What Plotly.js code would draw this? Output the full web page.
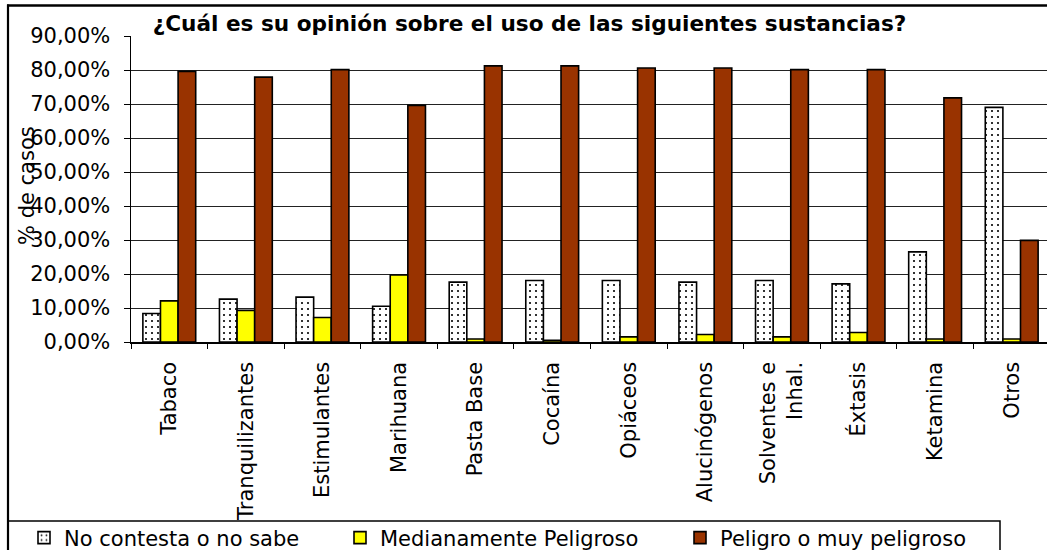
<!DOCTYPE html>
<html><head><meta charset="utf-8">
<script src="https://cdn.plot.ly/plotly-3.0.1.min.js"></script>
<style>html,body{margin:0;padding:0;background:#fff}#chart{width:1047px;height:550px}</style>
</head><body><div id="chart"></div>
<script>
const categories = ["Tabaco","Tranquilizantes","Estimulantes","Marihuana","Pasta Base","Cocaína","Opiáceos","Alucinógenos","Solventes e<br>Inhal.","Éxtasis","Ketamina","Otros"];
const noContesta   = [8.4, 12.6, 13.2, 10.5, 17.6, 18.1, 18.1, 17.6, 18.1, 17.1, 26.5, 69.0];
const medianamente = [12.1, 9.3, 7.2, 19.7, 0.9, 0.5, 1.5, 2.2, 1.5, 2.8, 0.9, 0.9];
const peligroso    = [79.6, 77.9, 80.1, 69.6, 81.2, 81.2, 80.6, 80.6, 80.1, 80.1, 71.8, 29.9];
const seriesNames  = ["No contesta o no sabe", "Medianamente Peligroso", "Peligro o muy peligroso"];
const yTickVals = [0, 10, 20, 30, 40, 50, 60, 70, 80, 90];
const yTickText = ["0,00%", "10,00%", "20,00%", "30,00%", "40,00%", "50,00%", "60,00%", "70,00%", "80,00%", "90,00%"];
const titleText = "¿Cuál es su opinión sobre el uso de las siguientes sustancias?";
const yTitleText = "% de casos";

const W = 1047, H = 550;
const plotL = 131, plotR = 1047, plotT = 36, plotB = 342;
const px2x = p => (p - plotL) / (plotR - plotL);
const px2y = p => (plotB - p) / (plotB - plotT);
const FONT = "DejaVu Sans, Verdana, sans-serif";
const outline = {color: "#000", width: 1.6};

const traces = [
  {type: "bar", name: seriesNames[0], x: categories, y: noContesta, legend: "legend",
   marker: {color: "#fff", line: outline,
            pattern: {shape: ".", fgcolor: "#000", bgcolor: "#fff", size: 6, solidity: 0.1}}},
  {type: "bar", name: seriesNames[1], x: categories, y: medianamente, legend: "legend2",
   marker: {color: "#FFFF00", line: outline}},
  {type: "bar", name: seriesNames[2], x: categories, y: peligroso, legend: "legend3",
   marker: {color: "#993300", line: outline}}
];

function legendAt(px) {
  return {orientation: "h", xref: "container", yref: "container",
          x: px / W, xanchor: "left", y: 1 - 538 / H, yanchor: "middle",
          font: {family: FONT, size: 21, color: "#000"}, borderwidth: 0,
          bgcolor: "rgba(0,0,0,0)"};
}

const layout = {
  width: W, height: H,
  margin: {l: plotL, r: W - plotR, t: plotT, b: H - plotB, pad: 0, autoexpand: false},
  paper_bgcolor: "#fff", plot_bgcolor: "#fff",
  font: {family: FONT, size: 21, color: "#000"},
  barmode: "group", bargap: 0.31, bargroupgap: 0,
  showlegend: true,
  title: {text: "<b>" + titleText + "</b>", font: {family: FONT, size: 21.6, color: "#000"},
          xref: "container", x: 529.5 / W, xanchor: "center",
          yref: "container", y: 1 - 23 / H, yanchor: "middle"},
  xaxis: {type: "category", range: [-0.5, 11.461], tickangle: -90,
          tickson: "boundaries", ticks: "outside", ticklen: 5, tickcolor: "#000", tickwidth: 1,
          showline: true, linecolor: "#000", linewidth: 1.5, showgrid: false,
          tickfont: {family: FONT, size: 21, color: "#000"}, ticklabelstandoff: 10, fixedrange: true},
  yaxis: {range: [0, 90], tickvals: yTickVals, ticktext: yTickText,
          ticks: "outside", ticklen: 6, tickcolor: "#000", tickwidth: 1,
          showline: true, linecolor: "#000", linewidth: 1.5,
          showgrid: true, gridcolor: "#222", gridwidth: 1, zeroline: false,
          tickfont: {family: FONT, size: 21, color: "#000"}, ticklabelstandoff: 9, fixedrange: true},
  legend: legendAt(24),
  legend2: legendAt(340),
  legend3: legendAt(680),
  annotations: [
    {text: yTitleText, textangle: -90, xref: "paper", yref: "paper",
     x: px2x(27), y: px2y(186), xanchor: "center", yanchor: "middle", showarrow: false,
     font: {family: FONT, size: 21, color: "#000"}}
  ],
  shapes: [
    {type: "line", xref: "paper", yref: "paper", x0: px2x(8), x1: px2x(8), y0: px2y(4.5), y1: px2y(600),
     line: {color: "#000", width: 2.2}, layer: "above"},
    {type: "line", xref: "paper", yref: "paper", x0: px2x(7), x1: px2x(1047), y0: px2y(5.5), y1: px2y(5.5),
     line: {color: "#000", width: 2.5}, layer: "above"},
    {type: "rect", xref: "paper", yref: "paper", x0: px2x(8), x1: px2x(1000), y0: px2y(521), y1: px2y(570),
     line: {color: "#000", width: 1.5}}
  ]
};

Plotly.newPlot("chart", traces, layout, {displayModeBar: false, staticPlot: true});
</script></body></html>
